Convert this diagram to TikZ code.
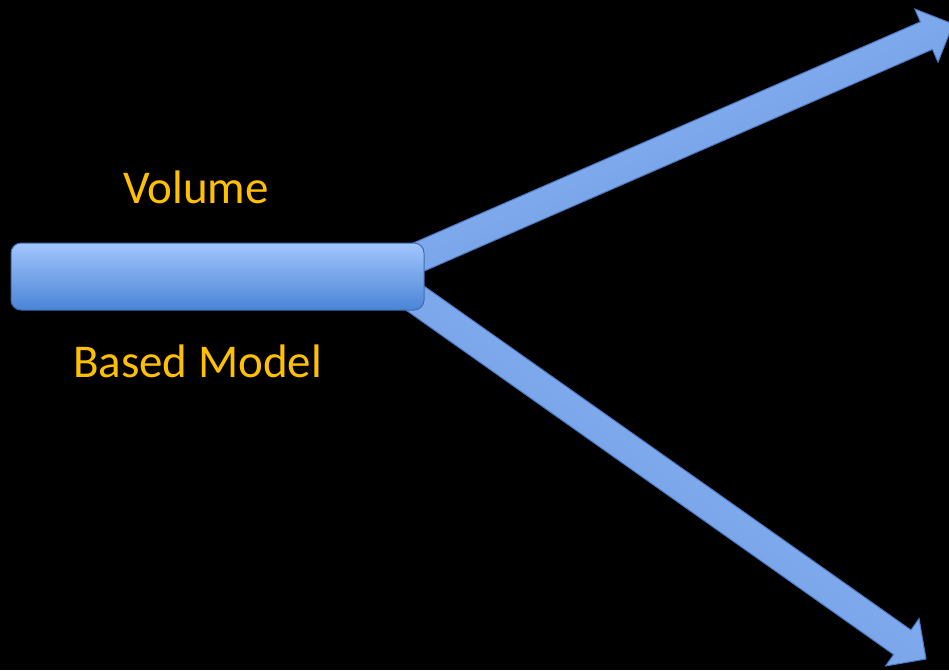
\documentclass[tikz,border=0pt]{standalone}
\usepackage{fontspec}
\setmainfont{Carlito}
\usetikzlibrary{calc}
\definecolor{bg}{HTML}{000000}
\definecolor{labelc}{HTML}{FFC000}
\definecolor{boxtop}{HTML}{A3C6FE}
\definecolor{boxbot}{HTML}{4A84D6}
\definecolor{boxline}{HTML}{3D6DB0}
\definecolor{arrlight}{HTML}{92B9F6}
\definecolor{arrdark}{HTML}{6796E0}
\definecolor{arrline}{HTML}{4A7BC4}
\tikzset{
  barbox/.style={draw=boxline, line width=1pt, rounded corners=10pt,
    top color=boxtop, bottom color=boxbot, minimum width=413pt,
    minimum height=67pt, inner sep=0pt},
  blockarrow/.style={draw=arrline, line width=1pt, line join=miter},
  lbl/.style={text=labelc, font=\fontsize{47}{51}\selectfont, anchor=base, inner sep=0pt}
}
\begin{document}
\begin{tikzpicture}[x=1pt,y=-1pt]
\fill[bg] (0,0) rectangle (949,670);
\useasboundingbox (0,0) rectangle (949,670);
% upper arrow
\coordinate (s1) at (400,265.2);
\coordinate (t1) at (953,24);
\coordinate (h1) at ($(t1)!29pt!(s1)$);
\draw[blockarrow, top color=arrlight, bottom color=arrdark, shading angle=23.6]
  ($(s1)!15pt!90:(t1)$) -- ($(h1)!15pt!90:(t1)$) -- ($(h1)!29pt!90:(t1)$) -- (t1)
  -- ($(h1)!29pt!-90:(t1)$) -- ($(h1)!15pt!-90:(t1)$) -- ($(s1)!15pt!-90:(t1)$) -- cycle;
% lower arrow
\coordinate (s2) at (400,287.5);
\coordinate (t2) at (926,659);
\coordinate (h2) at ($(t2)!29pt!(s2)$);
\draw[blockarrow, top color=arrlight, bottom color=arrdark, shading angle=-35.2]
  ($(s2)!15pt!90:(t2)$) -- ($(h2)!15pt!90:(t2)$) -- ($(h2)!29pt!90:(t2)$) -- (t2)
  -- ($(h2)!29pt!-90:(t2)$) -- ($(h2)!15pt!-90:(t2)$) -- ($(s2)!15pt!-90:(t2)$) -- cycle;
% box
\node[barbox] (box) at (217.5,276.5) {};
% labels
\node[lbl] (vol) at (196,203) {Volume};
\node[lbl] (bm) at (197.5,377) {Based Model};
\end{tikzpicture}
\end{document}
